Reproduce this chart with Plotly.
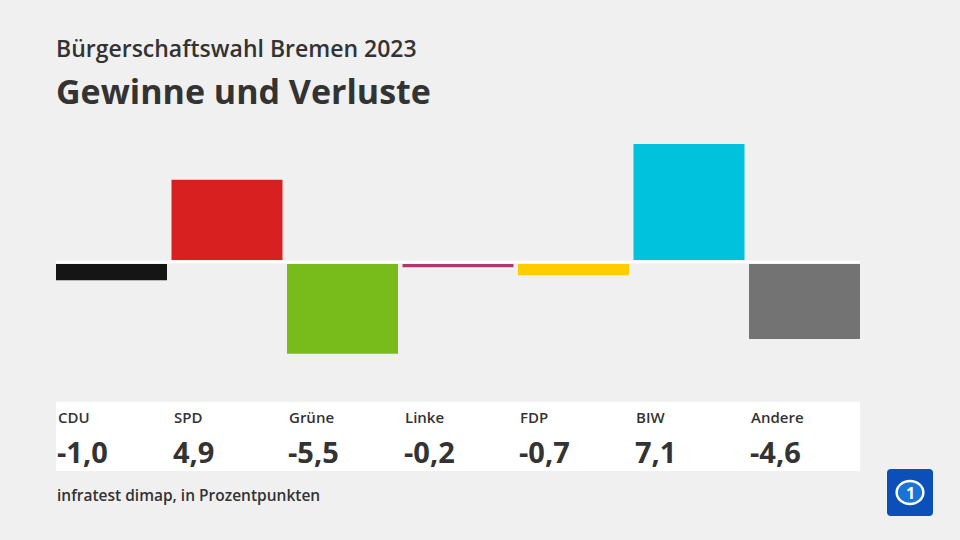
import plotly.graph_objects as go

parties = ["CDU", "SPD", "Grüne", "Linke", "FDP", "BIW", "Andere"]
changes = [-1.0, 4.9, -5.5, -0.2, -0.7, 7.1, -4.6]
value_labels = ["-1,0", "4,9", "-5,5", "-0,2", "-0,7", "7,1", "-4,6"]
colors = ["#151515", "#d7201f", "#78bc1b", "#b5366f", "#ffcc00", "#00c2dc", "#737373"]

FONT = "Open Sans"
TXT = "#333333"
BG = "#f0f0f0"

gap = 0.12  # small visual gap around zero line
bases = [gap if v > 0 else -gap for v in changes]

fig = go.Figure()
fig.add_trace(go.Bar(
    x=list(range(len(parties))),
    y=changes,
    base=bases,
    marker=dict(color=colors, line=dict(width=0)),
    width=0.961,
    hoverinfo="skip",
))

fig.update_layout(
    width=960, height=540,
    paper_bgcolor=BG, plot_bgcolor=BG,
    margin=dict(l=56, r=100, t=130, b=160),
    showlegend=False,
    font=dict(family=FONT, color=TXT),
    xaxis=dict(range=[-0.4805, 6.4805], visible=False, fixedrange=True),
    yaxis=dict(range=[-7.22, 8.07], visible=False, fixedrange=True),
)

shapes = []
shapes.append(dict(type="line", xref="paper", yref="y", x0=0, x1=1, y0=0, y1=0,
                   line=dict(color="white", width=2.5), layer="above"))
shapes.append(dict(type="rect", xref="paper", yref="paper", x0=0, x1=1,
                   y0=-0.364, y1=-0.087, fillcolor="white", line=dict(width=0), layer="below"))
shapes.append(dict(type="path", xref="paper", yref="paper",
                   path="M 1.0386,-0.356 L 1.0858,-0.356 Q 1.0908,-0.356 1.0908,-0.372 L 1.0908,-0.528 Q 1.0908,-0.544 1.0858,-0.544 L 1.0386,-0.544 Q 1.0336,-0.544 1.0336,-0.528 L 1.0336,-0.372 Q 1.0336,-0.356 1.0386,-0.356 Z",
                   fillcolor="#0b4fb8", line=dict(width=0)))
shapes.append(dict(type="circle", xref="paper", yref="paper",
                   x0=1.0336 + 0.012, x1=1.0908 - 0.012, y0=-0.356 - 0.048, y1=-0.544 + 0.048,
                   fillcolor="#1a73d6", line=dict(color="white", width=2.5)))
fig.update_layout(shapes=shapes)

annotations = [
    dict(text="Bürgerschaftswahl Bremen 2023", xref="paper", yref="paper", x=0, y=1.328,
         xanchor="left", yanchor="middle", showarrow=False,
         font=dict(size=23, family=FONT, color=TXT, weight=600), xshift=-2),
    dict(text="<b>Gewinne und Verluste</b>", xref="paper", yref="paper", x=0, y=1.156,
         xanchor="left", yanchor="middle", showarrow=False,
         font=dict(size=34, family=FONT, color=TXT), xshift=-2),
    dict(text="infratest dimap, in Prozentpunkten", xref="paper", yref="paper", x=0, y=-0.46,
         xanchor="left", yanchor="middle", showarrow=False,
         font=dict(size=15.5, family=FONT, color=TXT, weight=600), xshift=-1),
    dict(text="<b>1</b>", xref="paper", yref="paper", x=1.0622, y=-0.45,
         xanchor="center", yanchor="middle", showarrow=False,
         font=dict(size=16, family=FONT, color="white")),
]
for i, (p, v) in enumerate(zip(parties, value_labels)):
    annotations.append(dict(text=p, xref="x", yref="paper", x=i - 0.4805, y=-0.148,
                            xanchor="left", yanchor="middle", showarrow=False, xshift=0,
                            font=dict(size=15, family=FONT, color=TXT, weight=600)))
    annotations.append(dict(text="<b>" + v + "</b>", xref="x", yref="paper", x=i - 0.4805, y=-0.286,
                            xanchor="left", yanchor="middle", showarrow=False, xshift=-1,
                            font=dict(size=29, family=FONT, color=TXT)))
fig.update_layout(annotations=annotations)

fig.write_html("out.html", config={"displayModeBar": False},
               post_script="document.body.style.margin='0';")
